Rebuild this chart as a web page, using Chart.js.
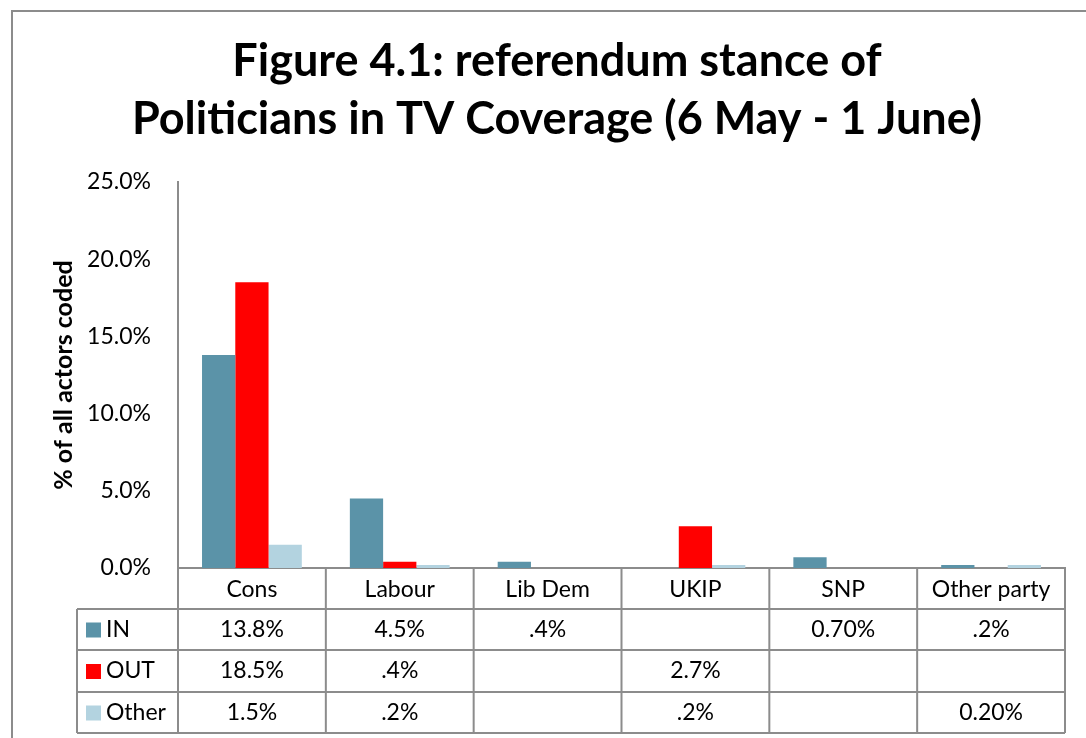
<!DOCTYPE html>
<html>
<head>
<meta charset="utf-8">
<script src="https://cdn.jsdelivr.net/npm/chart.js@4/dist/chart.umd.min.js"></script>
<style>
  html, body { margin: 0; padding: 0; background: #fff; }
  #wrap { width: 1086px; height: 738px; }
</style>
</head>
<body>
<div id="wrap"><canvas id="chartCanvas" width="1086" height="738"></canvas></div>
<script>
var categories = ['Cons', 'Labour', 'Lib Dem', 'UKIP', 'SNP', 'Other party'];
var seriesNames = ['IN', 'OUT', 'Other'];
var inValues = [13.8, 4.5, 0.4, null, 0.7, 0.2];
var outValues = [18.5, 0.4, null, 2.7, null, null];
var otherValues = [1.5, 0.2, null, 0.2, null, 0.2];
// labels as printed in the data table
var inLabels = ['13.8%', '4.5%', '.4%', '', '0.70%', '.2%'];
var outLabels = ['18.5%', '.4%', '', '2.7%', '', ''];
var otherLabels = ['1.5%', '.2%', '', '.2%', '', '0.20%'];
var colors = ['#5b93a8', '#ff0000', '#b3d3e0'];

var fontName = 'Lato, "Open Sans", sans-serif';
var lineColor = '#8c8c8c';

// draws the frame and the data table under the x axis
var tablePlugin = {
  id: 'tablePlugin',
  afterDraw: function(chart) {
    var ctx = chart.ctx;
    var x = chart.scales.x;
    var area = chart.chartArea;
    var n = categories.length;
    var colW = (area.right - area.left) / n;
    var rowTop = area.bottom;
    var rows = [rowTop, 609, 650, 692, 733];
    var leftCol = 77;

    ctx.save();
    ctx.strokeStyle = lineColor;
    ctx.lineWidth = 2;

    // outer frame
    ctx.beginPath();
    ctx.moveTo(12, 738);
    ctx.lineTo(12, 11);
    ctx.lineTo(1086, 11);
    ctx.stroke();

    // horizontal table lines
    ctx.beginPath();
    for (var r = 1; r < rows.length; r++) {
      ctx.moveTo(leftCol, rows[r]);
      ctx.lineTo(area.right, rows[r]);
    }
    // vertical lines
    for (var i = 0; i <= n; i++) {
      var vx = area.left + i * colW;
      ctx.moveTo(vx, rowTop);
      ctx.lineTo(vx, rows[4]);
    }
    ctx.moveTo(leftCol, rows[1]);
    ctx.lineTo(leftCol, rows[4]);
    ctx.stroke();

    // text
    ctx.fillStyle = '#000';
    ctx.font = '23px ' + fontName;
    ctx.textAlign = 'center';
    ctx.textBaseline = 'middle';
    for (var c = 0; c < n; c++) {
      var cx = x.getPixelForValue(c);
      ctx.fillText(categories[c], cx, (rows[0] + rows[1]) / 2 + 1);
      ctx.fillText(inLabels[c], cx, (rows[1] + rows[2]) / 2);
      ctx.fillText(outLabels[c], cx, (rows[2] + rows[3]) / 2);
      ctx.fillText(otherLabels[c], cx, (rows[3] + rows[4]) / 2);
    }
    // legend keys
    ctx.textAlign = 'left';
    for (var s = 0; s < seriesNames.length; s++) {
      var my = (rows[s + 1] + rows[s + 2]) / 2;
      ctx.fillStyle = colors[s];
      ctx.fillRect(86, my - 7, 15, 15);
      ctx.fillStyle = '#000';
      ctx.fillText(seriesNames[s], 106, my);
    }
    ctx.restore();
  }
};

var ctx = document.getElementById('chartCanvas').getContext('2d');
var chart = new Chart(ctx, {
  type: 'bar',
  data: {
    labels: categories,
    datasets: [
      { label: seriesNames[0], data: inValues, backgroundColor: colors[0] },
      { label: seriesNames[1], data: outValues, backgroundColor: colors[1] },
      { label: seriesNames[2], data: otherValues, backgroundColor: colors[2] }
    ]
  },
  options: {
    responsive: false,
    animation: false,
    events: [],
    layout: { padding: { top: 0, left: 49, right: 21, bottom: 0 } },
    datasets: { bar: { categoryPercentage: 0.675, barPercentage: 1.0 } },
    plugins: {
      legend: { display: false },
      tooltip: { enabled: false },
      title: {
        display: true,
        text: ['Figure 4.1: referendum stance of', 'Politicians in TV Coverage (6 May - 1 June)'],
        color: '#000',
        font: { family: fontName, size: 45, weight: 'bold', lineHeight: 1.3 },
        padding: { top: 32, bottom: 33 }
      }
    },
    scales: {
      x: {
        grid: { display: false },
        border: { display: true, color: lineColor, width: 2 },
        ticks: { display: false },
        afterFit: function(scale) { scale.height = 738 - 568; }
      },
      y: {
        min: 0,
        max: 25,
        grid: { display: false },
        border: { display: true, color: lineColor, width: 2 },
        ticks: {
          stepSize: 5,
          color: '#000',
          padding: 19,
          font: { family: fontName, size: 23 },
          callback: function(v) { return v.toFixed(1) + '%'; }
        },
        title: {
          display: true,
          text: '% of all actors coded',
          color: '#000',
          font: { family: fontName, size: 25, weight: 'bold' },
          padding: { top: 0, bottom: 0 }
        },
        afterFit: function(scale) { scale.width = 129; }
      }
    }
  },
  plugins: [tablePlugin]
});
</script>
</body>
</html>
